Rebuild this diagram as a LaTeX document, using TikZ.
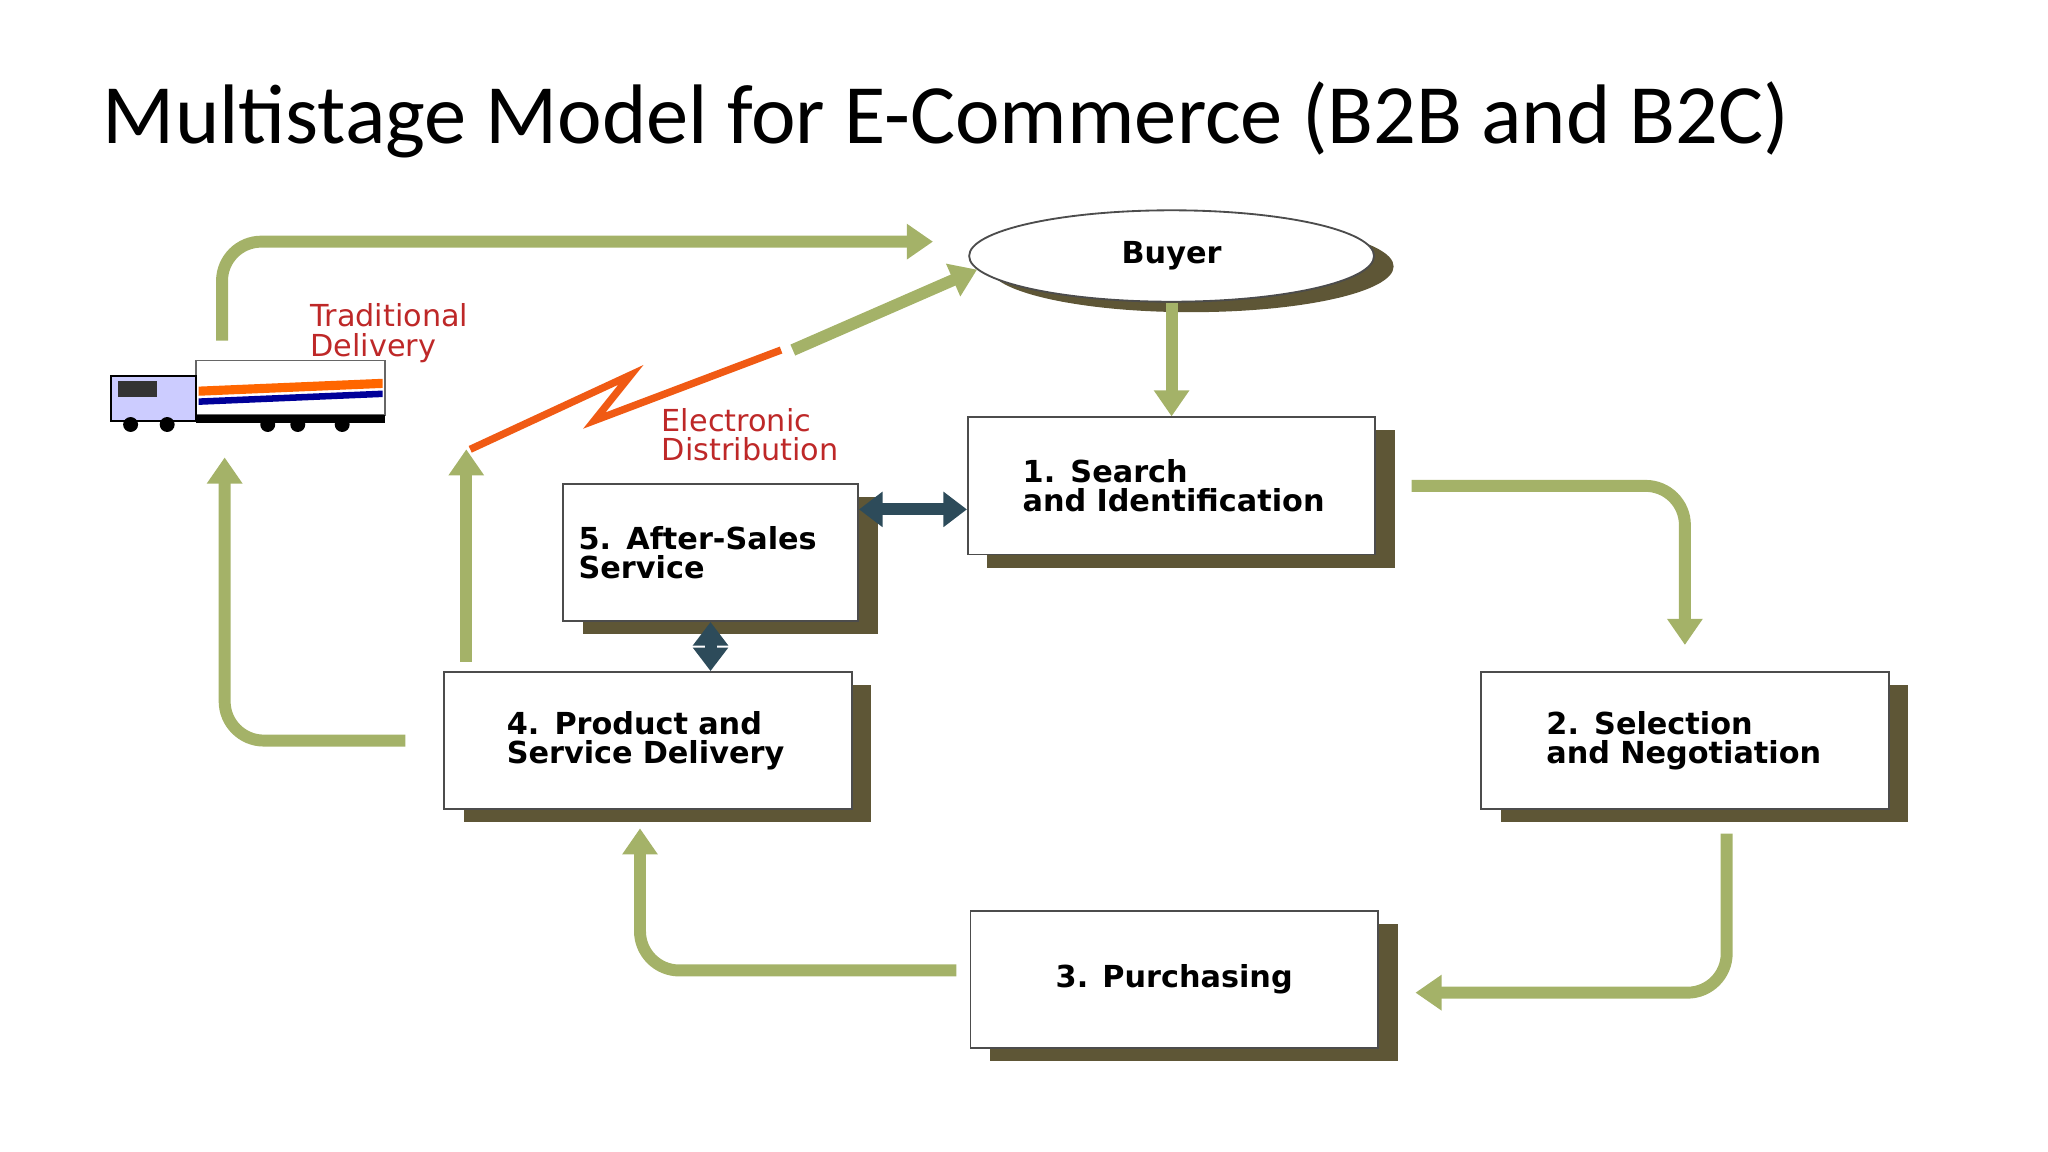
\documentclass[tikz,border=0pt]{standalone}
\usepackage{fontspec}
\setmainfont{Carlito}
\newfontfamily\boxfont{DejaVu Sans}
\usepackage{xcolor}
\usetikzlibrary{positioning,shapes.geometric,shadows,arrows.meta}
\definecolor{olive}{RGB}{94,86,54}
\definecolor{leaf}{RGB}{164,178,104}
\definecolor{steel}{RGB}{45,75,90}
\definecolor{label}{RGB}{190,40,40}
\definecolor{bolt}{RGB}{240,90,20}

\begin{document}
\begin{tikzpicture}[x=0.1mm,y=-0.1mm,
box/.style={rectangle, draw=black!70, fill=white, thin, minimum width=31.2mm, minimum height=10.5mm, inner xsep=0pt, align=left, font=\boxfont\bfseries\fontsize{6.6}{6.4}\selectfont, drop shadow={shadow xshift=1.5mm, shadow yshift=-1mm, fill=olive, opacity=1}},
buyerstyle/.style={ellipse, draw=black!70, fill=white, thin, minimum width=31mm, minimum height=7mm, font=\boxfont\bfseries\fontsize{6.6}{6.4}\selectfont, drop shadow={shadow xshift=1.5mm, shadow yshift=-0.8mm, fill=olive, opacity=1}},
flow/.style={draw=leaf, line width=2.6pt, -{Triangle[width=2.6mm,length=2mm]}, rounded corners=3mm},
link/.style={draw=steel, line width=2.6pt, {Triangle[width=2.6mm,length=1.8mm]}-{Triangle[width=2.6mm,length=1.8mm]}},
tag/.style={font=\boxfont\fontsize{6.6}{6.4}\selectfont, text=label, align=left, anchor=north west, inner sep=0pt}
]
\useasboundingbox (0,0) rectangle (1568,882);

\node[anchor=west, inner sep=0pt, font=\fontsize{18.4}{21}\selectfont] (title) at (78,92) {Multistage Model for E-Commerce (B2B and B2C)};

\node[buyerstyle](buyer) at (897,196){Buyer};
\node[box, text width=22.8mm](search) at (897,372){1. Search\\\mbox{and Identification}};
\node[box, minimum width=22.6mm, text width=20.2mm](after) at (544,423){5. After-Sales\\Service};
\node[box, text width=21.6mm](deliv) at (496,567){4. Product and\\\mbox{Service Delivery}};
\node[box, text width=21.2mm](select) at (1290,567){2. Selection\\\mbox{and Negotiation}};
\node[box, align=center](purch) at (899,750){3. Purchasing};

\node[tag](trad) at (237,232){Traditional\\Delivery};
\node[tag](elec) at (506,312){Electronic\\Distribution};

% truck
\node[minimum width=21mm, minimum height=5.5mm](truck) at (190,302){};
\draw[fill=white, draw=black!60] (150,276) rectangle (295,318);
\fill[orange!80!red] (152,296) -- (293,290) -- (293,297) -- (152,303) -- cycle;
\fill[blue!60!black] (152,305) -- (293,299) -- (293,304) -- (152,310) -- cycle;
\draw[fill=blue!20, draw=black] (85,288) rectangle (150,322);
\fill[black!80] (90,292) rectangle (120,304);
\fill[black] (150,318) rectangle (295,324);
\foreach \wx in {100,128,205,228,262}
  \draw[fill=black] (\wx,325) circle (5);

\coordinate (edist) at (360,344);
\coordinate (bolt1) at (483,287);
\coordinate (bolt2) at (455,322);
\coordinate (bolt3) at (598,268);
\coordinate (ebeam) at (607,268);

\draw[flow] (buyer) -- (search);
\draw[flow, shorten <=2.7mm, shorten >=2mm] (search.east) -| (select.north);
\draw[flow, shorten <=1.8mm, shorten >=2.8mm] ([xshift=3.2mm]select.south) |- ([yshift=-1mm]purch.east);
\draw[flow, shorten <=1mm, shorten >=1.4mm] ([yshift=0.7mm]purch.west) -| ([xshift=-0.6mm]deliv.south);
\draw[flow, shorten <=2.9mm, shorten >=2mm] (deliv.west) -| ([xshift=-1.8mm]truck.south);
\draw[flow, shorten <=1.3mm, shorten >=2.7mm] ([xshift=-2mm]truck.north) |- ([yshift=1.1mm]buyer.west);
\draw[flow, shorten <=0.7mm] ([xshift=-13.9mm]deliv.north) -- ([xshift=-13.9mm]deliv.north |- edist);
\draw[bolt, line width=1.6pt, line join=miter] (edist) -- (bolt1) -- (bolt2) -- (bolt3);
\draw[flow] (ebeam) -- (buyer.184);
\draw[link] ([yshift=-1.8mm]search.west -| after.east) -- ([yshift=-1.8mm]search.west);
\draw[link] (after.south) -- (after.south |- deliv.north);
\end{tikzpicture}
\end{document}
